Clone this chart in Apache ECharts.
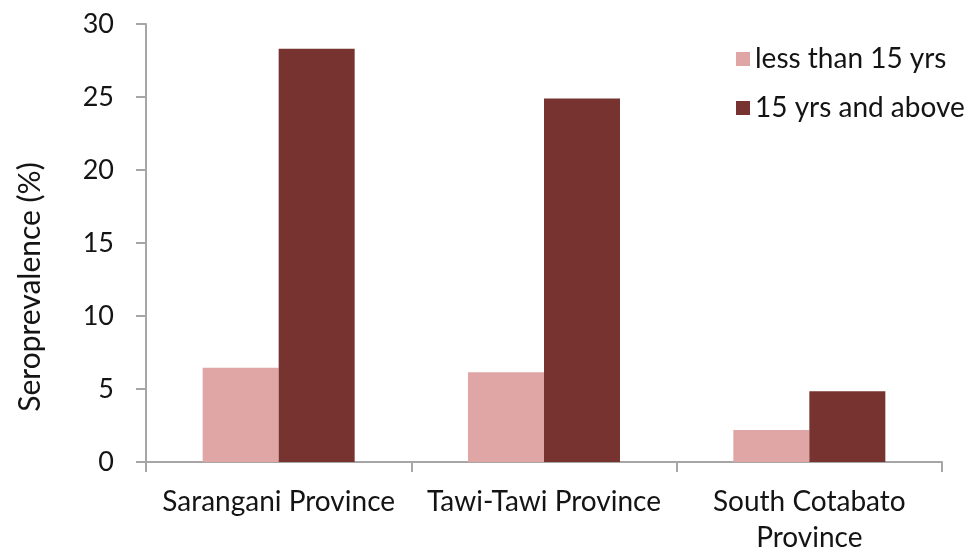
<!DOCTYPE html>
<html>
<head>
<meta charset="utf-8">
<script src="https://cdn.jsdelivr.net/npm/echarts@6/dist/echarts.min.js"></script>
<style>html,body{margin:0;padding:0;background:#fff}#c{width:968px;height:556px}</style>
</head>
<body>
<div id="c"></div>
<script>
const categories = ['Sarangani Province', 'Tawi-Tawi Province', 'South Cotabato\nProvince'];
const seriesNames = ['less than 15 yrs', '15 yrs and above'];
const under15 = [6.45, 6.15, 2.2];
const over15 = [28.3, 24.9, 4.85];
const yTicks = [0, 5, 10, 15, 20, 25, 30];

const font = 'Lato, "Open Sans", sans-serif';
const chart = echarts.init(document.getElementById('c'), null, {renderer: 'canvas'});
chart.setOption({
  animation: false,
  backgroundColor: '#fff',
  textStyle: {fontFamily: font},
  grid: {left: 146, right: 26, top: 24, bottom: 89, containLabel: false},
  legend: {
    orient: 'vertical', left: 731, top: 39, itemGap: 19, itemWidth: 14, itemHeight: 14,
    icon: 'rect', itemStyle: {borderWidth: 0},
    textStyle: {fontSize: 28, lineHeight: 30, color: '#141414', fontFamily: font},
    data: seriesNames
  },
  xAxis: {
    type: 'category', data: categories,
    axisLine: {lineStyle: {color: '#a6a6a6', width: 2}},
    axisTick: {show: true, length: 10, lineStyle: {color: '#a6a6a6', width: 2}},
    axisLabel: {fontSize: 28, color: '#141414', margin: 22, lineHeight: 36, fontFamily: font, interval: 0}
  },
  yAxis: {
    type: 'value', min: 0, max: 30, interval: 5,
    name: 'Seroprevalence (%)', nameLocation: 'middle', nameGap: 101, nameRotate: 90,
    nameTextStyle: {fontSize: 30, color: '#141414', fontFamily: font, padding: [0, 88, 0, 0]},
    axisLine: {show: true, lineStyle: {color: '#a6a6a6', width: 2}},
    axisTick: {show: true, length: 10, lineStyle: {color: '#a6a6a6', width: 2}},
    splitLine: {show: false},
    axisLabel: {fontSize: 27, color: '#141414', margin: 32, fontFamily: font,
      formatter: v => yTicks.includes(v) ? String(v) : ''}
  },
  series: [
    {name: seriesNames[0], type: 'bar', data: under15, barWidth: 76, barGap: '0%',
     itemStyle: {color: '#e0a6a5'}},
    {name: seriesNames[1], type: 'bar', data: over15, barWidth: 76, barGap: '0%',
     itemStyle: {color: '#773330'}}
  ]
});
</script>
</body>
</html>
